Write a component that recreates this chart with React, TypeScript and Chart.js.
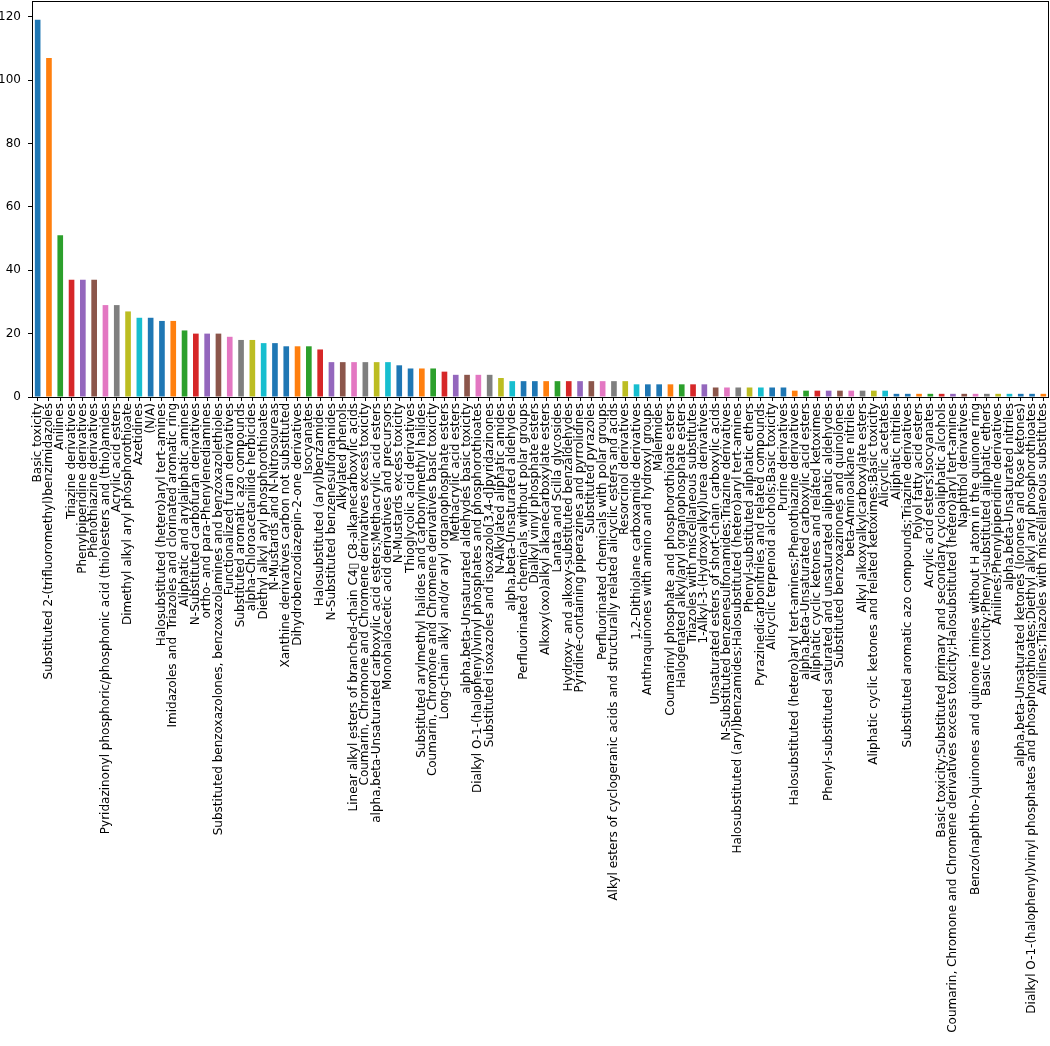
import React, { useEffect, useRef } from "react";
import { Chart, registerables } from "chart.js";

Chart.register(...registerables);

const categories: string[] = [
  "Basic toxicity",
  "Substituted 2-(trifluoromethyl)benzimidazoles",
  "Anilines",
  "Triazine derivatives",
  "Phenylpiperidine derivatives",
  "Phenothiazine derivatives",
  "Pyridazinonyl phosphoric/phosphonic acid (thio)esters and (thio)amides",
  "Acrylic acid esters",
  "Dimethyl alkyl aryl phosphorothioate",
  "Azetidines",
  "(N/A)",
  "Halosubstituted (hetero)aryl tert-amines",
  "Imidazoles and  Triazoles and clorinated aromatic ring",
  "Aliphatic and arylaliphatic amines",
  "N-Substituted carbofuran derivatives",
  "ortho- and para-Phenylenediamines",
  "Substituted benzoxazolones, benzoxazolamines and benzoxazolethioles",
  "Functionalized furan derivatives",
  "Substituted aromatic azo compounds",
  "alpha-Chloroacetanilide herbicides",
  "Diethyl alkyl aryl phosphorothioates",
  "N-Mustards and N-Nitrosoureas",
  "Xanthine derivatives carbon not substituted",
  "Dihydrobenzodiazepin-2-one derivatives",
  "Isocyanates",
  "Halosubstituted (aryl)benzamides",
  "N-Substituted benzenesulfonamides",
  "Alkylated phenols",
  "Linear alkyl esters of branched-chain C4\u25AF C8-alkanecarboxylic acids",
  "Coumarin, Chromone and Chromene derivatives excess toxicity",
  "alpha,beta-Unsaturated carboxylic acid esters;Methacrylic acid esters",
  "Monohaloacetic acid derivatives and precursors",
  "N-Mustards excess toxicity",
  "Thioglycolic acid derivatives",
  "Substituted arylmethyl halides and carbonylmethyl halides",
  "Coumarin, Chromone and Chromene derivatives basic toxicity",
  "Long-chain alkyl and/or aryl organophosphate esters",
  "Methacrylic acid esters",
  "alpha,beta-Unsaturated aldehydes basic toxicity",
  "Dialkyl O-1-(halophenyl)vinyl phosphates and phosphorothioates",
  "Substituted isoxazoles and isoxazolo[3,4-d]pyridazinones",
  "N-Alkylated aliphatic amides",
  "alpha,beta-Unsaturated aldehydes",
  "Perfluorinated chemicals without polar groups",
  "Dialkyl vinyl phosphate esters",
  "Alkoxy(oxo)alkyl alkanecarboxylate esters",
  "Lanata and Scilla glycosides",
  "Hydroxy- and alkoxy-substituted benzaldehydes",
  "Pyridine-containing piperazines and pyrrolidines",
  "Substituted pyrazoles",
  "Perfluorinated chemicals with polar groups",
  "Alkyl esters of cyclogeranic acids and structurally related alicyclic esters and acids",
  "Resorcinol derivatives",
  "1,2-Dithiolane carboxamide derivatives",
  "Anthraquinones with amino and hydroxyl groups",
  "Maleimides",
  "Coumarinyl phosphate and phosphorothioate esters",
  "Halogenated alkyl/aryl organophosphate esters",
  "Triazoles with miscellaneous substitutes",
  "1-Alkyl-3-(Hydroxyalkyl)urea derivatives",
  "Unsaturated esters of short-chain carboxylic acids",
  "N-Substituted benzenesulfonamides;Triazine derivatives",
  "Halosubstituted (aryl)benzamides;Halosubstituted (hetero)aryl tert-amines",
  "Phenyl-substituted aliphatic ethers",
  "Pyrazinedicarbonitriles and related compounds",
  "Alicyclic terpenoid alcohols;Basic toxicity",
  "Purine derivatives",
  "Halosubstituted (hetero)aryl tert-amines;Phenothiazine derivatives",
  "alpha,beta-Unsaturated carboxylic acid esters",
  "Aliphatic cyclic ketones and related ketoximes",
  "Phenyl-substituted saturated and unsaturated aliphatic aldehydes",
  "Substituted benzoxazinones and quinolones",
  "beta-Aminoalkane nitriles",
  "Alkyl alkoxyalkylcarboxylate esters",
  "Aliphatic cyclic ketones and related ketoximes;Basic toxicity",
  "Alicyclic acetates",
  "Aliphatic nitriles",
  "Substituted aromatic azo compounds;Triazine derivatives",
  "Polyol fatty acid esters",
  "Acrylic acid esters;Isocyanates",
  "Basic toxicity;Substituted primary and secondary cycloaliphatic alcohols",
  "Coumarin, Chromone and Chromene derivatives excess toxicity;Halosubstituted (hetero)aryl tert-amines",
  "Naphthol derivatives",
  "Benzo(naphtho-)quinones and quinone imines without H atom in the quinone ring",
  "Basic toxicity;Phenyl-substituted aliphatic ethers",
  "Anilines;Phenylpiperidine derivatives",
  "alpha,beta-Unsaturated nitriles",
  "alpha,beta-Unsaturated ketones (Ionones and Rose ketones)",
  "Dialkyl O-1-(halophenyl)vinyl phosphates and phosphorothioates;Diethyl alkyl aryl phosphorothioates",
  "Anilines;Triazoles with miscellaneous substitutes",
];

const counts: number[] = [
  119, 107, 51, 37, 37, 37, 29, 29, 27, 25,
  25, 24, 24, 21, 20, 20, 20, 19, 18, 18,
  17, 17, 16, 16, 16, 15, 11, 11, 11, 11,
  11, 11, 10, 9, 9, 9, 8, 7, 7, 7,
  7, 6, 5, 5, 5, 5, 5, 5, 5, 5,
  5, 5, 5, 4, 4, 4, 4, 4, 4, 4,
  3, 3, 3, 3, 3, 3, 3, 2, 2, 2,
  2, 2, 2, 2, 2, 2, 1, 1, 1, 1,
  1, 1, 1, 1, 1, 1, 1, 1, 1, 1,
];

const yTicks: number[] = [0, 20, 40, 60, 80, 100, 120];

const palette: string[] = [
  "#1f77b4", "#ff7f0e", "#2ca02c", "#d62728", "#9467bd",
  "#8c564b", "#e377c2", "#7f7f7f", "#bcbd22", "#17becf", "#1f77b4",
];

const FONT = { family: "'DejaVu Sans', sans-serif", size: 12 };

const framePlugin = {
  id: "frame",
  afterDraw(chart: any) {
    const { ctx, chartArea } = chart;
    ctx.save();
    ctx.strokeStyle = "#000";
    ctx.lineWidth = 1;
    ctx.strokeRect(
      Math.round(chartArea.left) + 0.5,
      Math.round(chartArea.top) + 0.5,
      Math.round(chartArea.right - chartArea.left) - 1,
      Math.round(chartArea.bottom - chartArea.top)
    );
    ctx.restore();
  },
};

export default function App() {
  const ref = useRef<HTMLCanvasElement | null>(null);

  useEffect(() => {
    document.body.style.margin = "0";
    const canvas = ref.current;
    if (!canvas) return;
    Chart.defaults.font.family = FONT.family;
    Chart.defaults.font.size = FONT.size;
    Chart.defaults.color = "#000";
    const chart = new Chart(canvas, {
      type: "bar",
      data: {
        labels: categories,
        datasets: [
          {
            data: counts,
            backgroundColor: categories.map((_, i) => palette[i % palette.length]),
            borderWidth: 0,
            barPercentage: 0.5,
            categoryPercentage: 1.0,
          },
        ],
      },
      options: {
        animation: false,
        responsive: false,
        maintainAspectRatio: false,
        devicePixelRatio: 1,
        layout: { padding: { top: 1, right: 1, left: 0, bottom: 0 } },
        plugins: {
          legend: { display: false },
          tooltip: { enabled: false },
          title: { display: false },
        },
        scales: {
          x: {
            type: "category",
            offset: true,
            border: { display: false },
            grid: {
              display: true,
              offset: false,
              drawOnChartArea: false,
              drawTicks: true,
              tickLength: 4,
              color: "#000",
              lineWidth: 1,
            },
            ticks: {
              autoSkip: false,
              maxRotation: 90,
              minRotation: 90,
              padding: 2,
              color: "#000",
              font: FONT,
            },
            afterFit(scale: any) {
              scale.height = 649;
              scale.paddingLeft = 0;
              scale.paddingRight = 0;
            },
          },
          y: {
            type: "linear",
            min: 0,
            max: 124.95,
            border: { display: false },
            grid: {
              display: true,
              drawOnChartArea: false,
              drawTicks: true,
              tickLength: 4,
              color: "#000",
              lineWidth: 1,
            },
            afterBuildTicks(scale: any) {
              scale.ticks = yTicks.map((v) => ({ value: v }));
            },
            ticks: {
              padding: 7,
              color: "#000",
              font: FONT,
            },
            afterFit(scale: any) {
              scale.width = 32;
              scale.paddingTop = 0;
              scale.paddingBottom = 0;
            },
          },
        },
      },
      plugins: [framePlugin],
    });
    return () => chart.destroy();
  }, []);

  return (
    <div style={{ position: "absolute", left: 0, top: 0, width: 1050, height: 1046, background: "#fff" }}>
      <canvas ref={ref} width={1050} height={1046} style={{ width: 1050, height: 1046 }} />
    </div>
  );
}
